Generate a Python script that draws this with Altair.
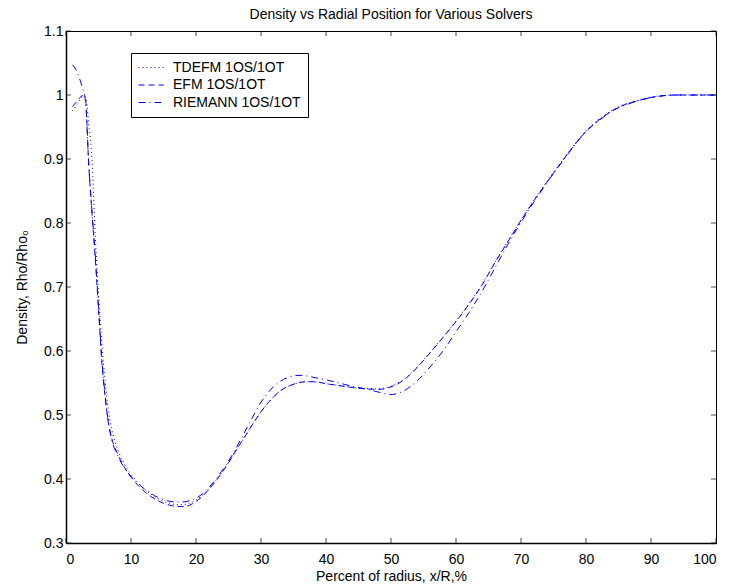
import altair as alt
import pandas as pd

# ---- data ----
x_pos = [1, 1.5, 2, 2.5, 3, 3.5, 4, 4.5, 5, 5.5, 6, 6.5, 7,
         8, 9, 10, 11, 12, 13, 14, 15, 16, 17, 18, 19, 20, 21, 22, 23, 24, 25,
         26, 27, 28, 29, 30, 31, 32, 33, 34, 35, 36, 37, 38, 39, 40,
         42, 44, 46, 48, 50, 52, 54, 56, 58, 60, 62, 64, 66, 68, 70,
         72, 74, 76, 78, 80, 82, 84, 86, 88, 90, 92, 94, 96, 98, 100]

tdefm = [0.975, 0.982, 0.990, 0.997, 0.997, 0.955, 0.900, 0.780, 0.690, 0.615, 0.555, 0.510, 0.480,
         0.445, 0.423, 0.407, 0.395, 0.385, 0.377, 0.370, 0.365, 0.362, 0.360, 0.360, 0.362, 0.367,
         0.375, 0.385, 0.397, 0.411, 0.426, 0.442, 0.458, 0.474, 0.490, 0.505, 0.518, 0.529, 0.538,
         0.544, 0.548, 0.551, 0.552, 0.552, 0.551, 0.549,
         0.546, 0.543, 0.541, 0.541, 0.545, 0.556, 0.575, 0.598, 0.622, 0.647, 0.674, 0.704, 0.739,
         0.772, 0.805, 0.836, 0.865, 0.893, 0.920, 0.944, 0.962, 0.976, 0.986, 0.992, 0.997, 0.999,
         1.0, 1.0, 1.0, 1.0]

efm = [0.982, 0.988, 0.994, 0.999, 0.992, 0.890, 0.815, 0.745, 0.665, 0.585, 0.530, 0.490, 0.465,
       0.438, 0.418, 0.403, 0.391, 0.381, 0.373, 0.367, 0.362, 0.359, 0.357, 0.357, 0.359, 0.365,
       0.373, 0.384, 0.396, 0.410, 0.425, 0.442, 0.458, 0.474, 0.490, 0.505, 0.518, 0.529, 0.538,
       0.544, 0.548, 0.551, 0.552, 0.552, 0.551, 0.549,
       0.546, 0.543, 0.541, 0.540, 0.544, 0.555, 0.574, 0.597, 0.621, 0.646, 0.673, 0.703, 0.738,
       0.771, 0.804, 0.835, 0.864, 0.892, 0.919, 0.943, 0.961, 0.975, 0.985, 0.991, 0.996, 0.999,
       1.0, 1.0, 1.0, 1.0]

riemann = [1.047, 1.040, 1.028, 1.012, 0.990, 0.892, 0.818, 0.750, 0.670, 0.590, 0.533, 0.490, 0.463,
           0.436, 0.417, 0.404, 0.394, 0.385, 0.378, 0.372, 0.368, 0.365, 0.364, 0.364, 0.366, 0.370,
           0.377, 0.387, 0.399, 0.413, 0.428, 0.445, 0.464, 0.483, 0.502, 0.520, 0.534, 0.545, 0.553,
           0.558, 0.561, 0.562, 0.561, 0.559, 0.557, 0.555,
           0.550, 0.545, 0.541, 0.536, 0.532, 0.538, 0.553, 0.575, 0.600, 0.630, 0.660, 0.693, 0.730,
           0.767, 0.801, 0.833, 0.863, 0.891, 0.918, 0.943, 0.960, 0.975, 0.984, 0.991, 0.996, 0.999,
           1.0, 1.0, 1.0, 1.0]

series_names = ["TDEFM 1OS/1OT", "EFM 1OS/1OT", "RIEMANN 1OS/1OT"]
series_values = [tdefm, efm, riemann]
dash_styles = [[1, 3], [6, 4], [7, 4, 1, 4]]

x_ticks = [0, 10, 20, 30, 40, 50, 60, 70, 80, 90, 100]
y_ticks = [0.3, 0.4, 0.5, 0.6, 0.7, 0.8, 0.9, 1.0, 1.1]

rows = []
for name, vals in zip(series_names, series_values):
    for xv, yv in zip(x_pos, vals):
        rows.append({"series": name, "x": xv, "y": yv})
df = pd.DataFrame(rows)
xt = pd.DataFrame({"x": x_ticks})
yt = pd.DataFrame({"y": y_ticks})

W, H = 650, 512
FONT = "Liberation Sans"
BLUE = "#0000ff"

xscale = alt.Scale(domain=[0, 100], nice=False, zero=False)
yscale = alt.Scale(domain=[0.3, 1.1], nice=False, zero=False)

common_axis = dict(grid=False, ticks=False, tickSize=0, domainWidth=1.5, domainColor="black",
                   labelFont=FONT, labelFontSize=14, labelColor="black",
                   titleFont=FONT, titleFontSize=14, titleFontWeight="normal", titleColor="black")

xaxis = alt.Axis(values=x_ticks, title="Percent of radius, x/R,%", labelPadding=9,
                 titleX=W / 2, titleY=37, titleBaseline="alphabetic", **common_axis)
yaxis = alt.Axis(values=y_ticks, format=".1~f", title="Density, Rho/Rho₀", labelPadding=3,
                 titleX=-39.5, titleY=H / 2, titleBaseline="alphabetic",
                 titleAngle=-90, titleAlign="center", **common_axis)

X = alt.X("x:Q", scale=xscale, axis=xaxis)
Y = alt.Y("y:Q", scale=yscale, axis=yaxis)

lines = alt.Chart(df).mark_line(stroke=BLUE, color=BLUE, strokeWidth=1, interpolate="monotone").encode(
    x=X, y=Y,
    strokeDash=alt.StrokeDash(
        "series:N",
        scale=alt.Scale(domain=series_names, range=dash_styles),
        legend=alt.Legend(orient="none", legendX=65, legendY=22, title=None,
                          symbolType="M-1.8,0H1.8", symbolSize=196, symbolStrokeWidth=1,
                          symbolStrokeColor=BLUE, symbolFillColor=BLUE,
                          symbolOffset=5.6, labelOffset=14.4, padding=7,
                          rowPadding=2.5, strokeColor="black", fillColor="white",
                          labelFontSize=14, labelFont=FONT, labelColor="black"),
    ),
)

top_ticks = alt.Chart(xt).mark_tick(color="black", size=5, thickness=1, orient="vertical").encode(
    x=X, y=alt.value(2.5))
bot_ticks = alt.Chart(xt).mark_tick(color="black", size=5, thickness=1, orient="vertical").encode(
    x=X, y=alt.value(H - 2.5))
left_ticks = alt.Chart(yt).mark_tick(color="black", size=5, thickness=1, orient="horizontal").encode(
    y=Y, x=alt.value(2.5))
right_ticks = alt.Chart(yt).mark_tick(color="black", size=5, thickness=1, orient="horizontal").encode(
    y=Y, x=alt.value(W - 2.5))

chart = alt.layer(lines, top_ticks, bot_ticks, left_ticks, right_ticks).properties(
    width=W, height=H,
    title=alt.TitleParams("Density vs Radial Position for Various Solvers", fontSize=14,
                          font=FONT, fontWeight="normal", color="black", anchor="middle",
                          offset=2),
    autosize=alt.AutoSizeParams(type="none"),
    padding={"left": 66, "top": 31, "right": 14, "bottom": 42},
).configure(background="white").configure_view(stroke="black", strokeWidth=1)

chart.save("out.html", embed_options={"renderer": "svg", "actions": False})
